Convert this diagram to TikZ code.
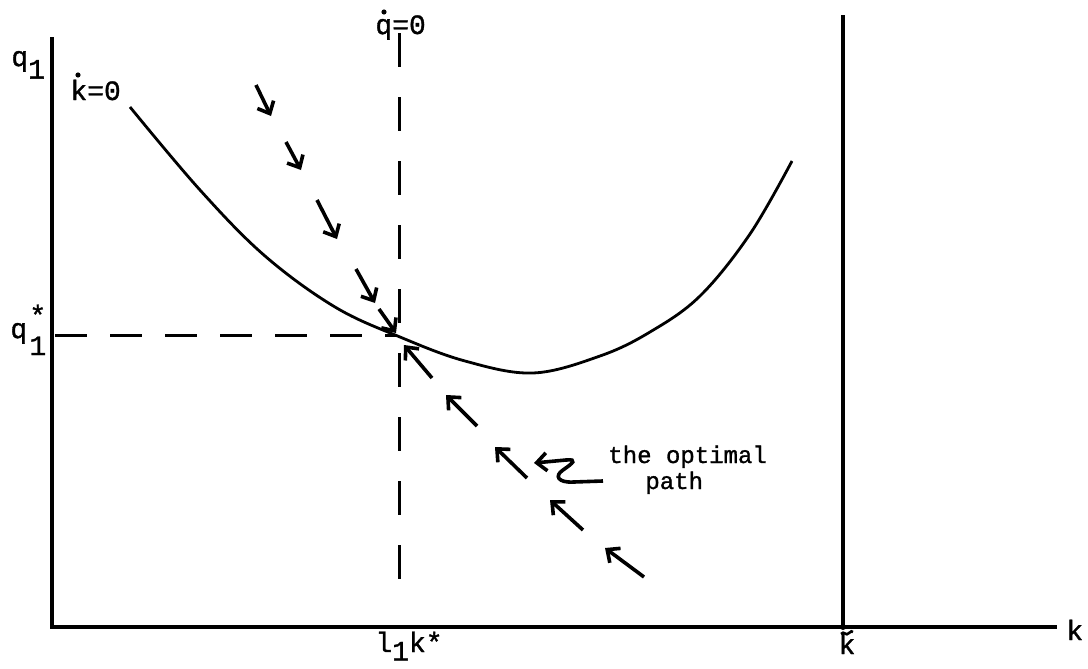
\documentclass[tikz,border=0pt]{standalone}
\usepackage{fontspec}
\setmainfont{Liberation Mono}[FakeBold=1.2]
\usetikzlibrary{arrows.meta}
\tikzset{
  axis/.style={line width=1.8pt},
  curve/.style={line width=1.4pt},
  dashline/.style={line width=1.5pt, dash pattern=on 17pt off 15pt},
  flow/.style={line width=1.8pt, -{Straight Barb[length=5pt,width=9pt]}},
  lbl/.style={inner sep=0pt, anchor=base west, font=\fontsize{14}{16}\selectfont},
  txt/.style={inner sep=0pt, anchor=base west, font=\fontsize{12}{14}\selectfont},
}
\begin{document}
\begin{tikzpicture}[x=0.5pt,y=-0.5pt]
\useasboundingbox (0,0) rectangle (1088,669);
% axes
\coordinate (O) at (52,627);
\coordinate (ytop) at (52,37);
\coordinate (xend) at (1057,627);
\draw[axis] (ytop) -- (O) -- (xend);
% right vertical line at k tilde
\coordinate (kt) at (843,627);
\coordinate (kttop) at (843,15);
\draw[axis] (kttop) -- (kt);
\fill (kt) circle[radius=3];
% dashed lines
\coordinate (vtop) at (399,33);
\coordinate (vbot) at (399,606);
\draw[dashline] (vtop) -- (vbot);
\coordinate (hl) at (55,335);
\coordinate (hr) at (397,335);
\draw[dashline, dash pattern=on 16pt off 11.5pt] (hl) -- (hr);
% the k-dot=0 curve
\draw[curve] plot[smooth, tension=0.6] coordinates {(130,107) (200,190) (265,256) (335,307) (400,337) (465,361) (533,373) (600,356) (650,332) (700,296) (750,234) (792,161)};
% flow arrows above
\coordinate (a1t) at (256,85);  \coordinate (a1h) at (271,116);
\coordinate (a2t) at (286,142); \coordinate (a2h) at (301,170);
\coordinate (a3t) at (317,200); \coordinate (a3h) at (337,239);
\coordinate (a4t) at (356,269); \coordinate (a4h) at (375,303);
\coordinate (a5t) at (379,309); \coordinate (a5h) at (396,333);
\draw[flow] (a1t) -- (a1h);
\draw[flow] (a2t) -- (a2h);
\draw[flow] (a3t) -- (a3h);
\draw[flow] (a4t) -- (a4h);
\draw[flow] (a5t) -- (a5h);
% flow arrows below
\coordinate (b1t) at (432,378); \coordinate (b1h) at (404,345);
\coordinate (b2t) at (477,426); \coordinate (b2h) at (446,395);
\coordinate (b3t) at (527,478); \coordinate (b3h) at (495,447);
\coordinate (b4t) at (583,530); \coordinate (b4h) at (550,500);
\coordinate (b5t) at (644,577); \coordinate (b5h) at (605,548);
\draw[flow] (b1t) -- (b1h);
\draw[flow] (b2t) -- (b2h);
\draw[flow] (b3t) -- (b3h);
\draw[flow] (b4t) -- (b4h);
\draw[flow] (b5t) -- (b5h);
% squiggly pointer
\coordinate (st) at (603,481);
\coordinate (sh) at (534,463);
\draw[flow] (st) -- (574,482) .. controls (558,483) and (554,476) .. (563,470) .. controls (573,463) and (578,459) .. (566,460) -- (sh);
% labels
\node[lbl] (q1) at (11,66) {q\raisebox{-0.45em}{1}};
\node[lbl] (kdot) at (70,100) {k=0};
\fill (78,75) circle[radius=2.6];
\node[lbl] (qdot) at (375,34) {q=0};
\fill (384,12) circle[radius=2.6];
\node[lbl] (qstar) at (10,338) {q};
\node[lbl] (qsup) at (29,325) {*};
\node[lbl] (qsub) at (29,355) {1};
\node[lbl] (lk) at (375,652) {l\raisebox{-0.3em}{1}k*};
\node[lbl, anchor=base] (ktl) at (847,654) {k};
\draw[line width=1.3pt] (841,634) .. controls (844,630) and (846,637) .. (849,633) .. controls (851,631) and (852,631) .. (853,632);
\node[lbl] (klbl) at (1066,640) {k};
\node[txt] (opt) at (608,463) {the optimal};
\node[txt] (path) at (645,489) {path};
\end{tikzpicture}
\end{document}
